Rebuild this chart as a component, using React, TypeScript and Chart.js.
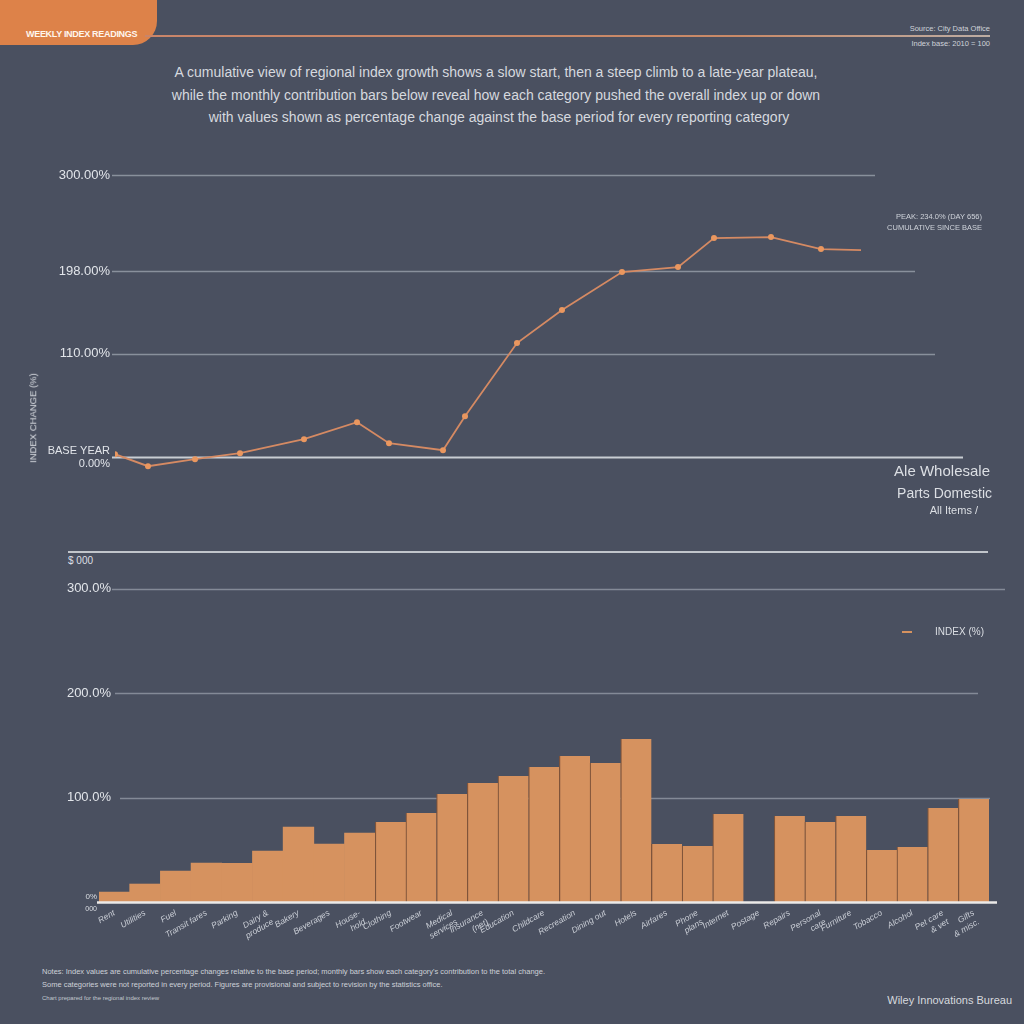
import React, { useEffect, useRef } from "react";
import { Chart, registerables } from "chart.js";

Chart.register(...registerables);

// ---------- DATA ----------
// Line chart (cumulative index change, %), x = reporting day
const lineDays = [0, 33, 80, 125, 189, 242, 274, 328, 350, 402, 447, 507, 563, 599, 656, 706, 746];
const lineValues = [3.2, -9.6, -2.1, 4.3, 19.1, 37.2, 14.9, 7.4, 43.6, 121.3, 156.4, 196.8, 202.1, 233.0, 234.0, 221.3, 220.2];
const lineTickValues = [0, 110, 198, 300];
const lineTickLabels: (string | string[])[] = [["BASE YEAR", "0.00%"], "110.00%", "198.00%", "300.00%"];

// Bar chart (category contribution, %)
const barCategories: (string | string[])[] = [
  "Rent", "Utilities", "Fuel", "Transit fares", "Parking",
  ["Dairy &", "produce"], "Bakery", "Beverages", ["House-", "hold"], "Clothing",
  "Footwear", ["Medical", "services"], ["Insurance", "(net)"], "Education", "Childcare",
  "Recreation", "Dining out", "Hotels", "Airfares", ["Phone", "plans"],
  "Internet", "Postage", "Repairs", ["Personal", "care"], "Furniture",
  "Tobacco", "Alcohol", ["Pet care", "& vet"], ["Gifts", "& misc."],
];
const barValues = [
  9.6, 17.2, 29.7, 37.3, 37.0,
  48.8, 71.8, 55.5, 66.0, 76.6,
  85.2, 103.3, 113.9, 120.6, 129.2,
  139.7, 133.0, 156.0, 55.5, 53.6,
  84.2, 0, 82.3, 76.6, 82.3,
  49.8, 52.6, 90.0, 98.6,
];
const barTickValues = [100, 200, 300];
const barTickLabels = ["100.0%", "200.0%", "300.0%"];

// ---------- STYLE ----------
const BG = "#4a5060";
const TEXT = "#dcdfe4";
const FONT = "'Liberation Sans', Arial, sans-serif";

type HLine = { value: number; x0: number; x1: number; color: string; width: number };
type YLabel = { value: number; text: string; x: number };

function makeHLinePlugin(under: HLine[], over: HLine[], labels: YLabel[] = []) {
  const draw = (chart: any, lines: HLine[]) => {
    const ctx = chart.ctx;
    const ys = chart.scales.y;
    ctx.save();
    for (const l of lines) {
      const py = Math.round(ys.getPixelForValue(l.value)) + 0.5;
      ctx.strokeStyle = l.color;
      ctx.lineWidth = l.width;
      ctx.beginPath();
      ctx.moveTo(l.x0, py);
      ctx.lineTo(l.x1, py);
      ctx.stroke();
    }
    ctx.restore();
  };
  return {
    id: "hlines",
    beforeDatasetsDraw(chart: any) { draw(chart, under); },
    afterDatasetsDraw(chart: any) {
      draw(chart, over);
      const ctx = chart.ctx;
      const ys = chart.scales.y;
      ctx.save();
      ctx.fillStyle = "#e2e5ea";
      ctx.font = `13px ${FONT}`;
      ctx.textAlign = "right";
      ctx.textBaseline = "middle";
      for (const lb of labels) {
        ctx.fillText(lb.text, lb.x, ys.getPixelForValue(lb.value));
      }
      ctx.restore();
    },
  };
}

function LineChart() {
  const ref = useRef<HTMLCanvasElement>(null);
  useEffect(() => {
    if (!ref.current) return;
    const grid = "rgba(190,196,206,0.55)";
    const plugin = makeHLinePlugin(
      [
        { value: 300, x0: 112, x1: 875, color: grid, width: 1.5 },
        { value: 198, x0: 112, x1: 915, color: grid, width: 1.5 },
        { value: 110, x0: 112, x1: 935, color: grid, width: 1.5 },
        { value: 0, x0: 112, x1: 963, color: "rgba(215,218,224,0.9)", width: 2 },
      ],
      []
    );
    const chart = new Chart(ref.current, {
      type: "line",
      data: {
        datasets: [
          {
            data: lineDays.map((d, i) => ({ x: d, y: lineValues[i] })),
            borderColor: "#d58a63",
            borderWidth: 1.8,
            pointRadius: (c: any) => (c.dataIndex === lineDays.length - 1 ? 0 : 3),
            pointBackgroundColor: "#ea975f",
            pointBorderWidth: 0,
            tension: 0,
          },
        ],
      },
      options: {
        responsive: false,
        animation: false,
        layout: { padding: { left: 0, right: 61, top: 25, bottom: 24 } },
        plugins: { legend: { display: false }, tooltip: { enabled: false } },
        scales: {
          x: { type: "linear", min: 0, max: 848, display: false },
          y: {
            type: "linear",
            min: -20,
            max: 300,
            grid: { display: false, drawTicks: false },
            border: { display: false },
            afterBuildTicks: (axis: any) => {
              axis.ticks = lineTickValues.map((v) => ({ value: v }));
            },
            afterFit: (scale: any) => {
              scale.width = 115;
            },
            ticks: {
              padding: 5,
              color: "#e2e5ea",
              font: (c: any) => ({ family: FONT, size: c.index === 0 ? 11 : 13 }),
              callback: (_v: any, i: number) => lineTickLabels[i],
            },
          },
        },
      },
      plugins: [plugin],
    } as any);
    return () => chart.destroy();
  }, []);
  return (
    <canvas
      ref={ref}
      width={1024}
      height={350}
      style={{ position: "absolute", left: 0, top: 150, width: 1024, height: 350 }}
    />
  );
}

function BarChart() {
  const ref = useRef<HTMLCanvasElement>(null);
  useEffect(() => {
    if (!ref.current) return;
    const grid = "rgba(190,196,206,0.5)";
    const plugin = makeHLinePlugin(
      [
        { value: 300, x0: 112, x1: 1005, color: grid, width: 1.5 },
        { value: 200, x0: 115, x1: 978, color: grid, width: 1.5 },
        { value: 100, x0: 120, x1: 990, color: grid, width: 1.5 },
      ],
      [{ value: 0, x0: 97, x1: 997, color: "#eceae8", width: 2.5 }],
      barTickValues.map((v, i) => ({ value: v, text: barTickLabels[i], x: 111 }))
    );
    const chart = new Chart(ref.current, {
      type: "bar",
      data: {
        labels: barCategories,
        datasets: [
          {
            data: barValues,
            backgroundColor: "#d6925f",
            borderColor: "#7f543a",
            borderWidth: (c: any) =>
              c.dataIndex >= 9 ? { left: 1.2, right: 0, top: 0, bottom: 0 } : 0,
            borderSkipped: false,
            categoryPercentage: 1,
            barPercentage: 1,
          },
        ],
      },
      options: {
        responsive: false,
        animation: false,
        layout: { padding: { left: 0, right: 35, top: 22, bottom: 0 } },
        plugins: { legend: { display: false }, tooltip: { enabled: false } },
        scales: {
          x: {
            grid: { display: false, drawTicks: false },
            border: { display: false },
            afterFit: (scale: any) => {
              scale.height = 60;
            },
            ticks: {
              autoSkip: false,
              minRotation: 30,
              maxRotation: 30,
              padding: 6,
              color: "#c9cdd5",
              font: { family: FONT, size: 8.5, style: "italic" },
            },
          },
          y: {
            type: "linear",
            min: 0,
            max: 335,
            grid: { display: false, drawTicks: false },
            border: { display: false },
            afterFit: (scale: any) => {
              scale.width = 99;
            },
            ticks: { display: false },
          },
        },
      },
      plugins: [plugin],
    } as any);
    return () => chart.destroy();
  }, []);
  return (
    <canvas
      ref={ref}
      width={1024}
      height={432}
      style={{ position: "absolute", left: 0, top: 530, width: 1024, height: 432 }}
    />
  );
}

type TProps = {
  x: number;
  y: number;
  size: number;
  align?: "left" | "right" | "center";
  color?: string;
  weight?: number;
  children: React.ReactNode;
  extra?: React.CSSProperties;
};

function T({ x, y, size, align = "left", color = TEXT, weight = 400, children, extra }: TProps) {
  const style: React.CSSProperties = {
    position: "absolute",
    top: y,
    fontSize: size,
    lineHeight: 1,
    color,
    fontWeight: weight,
    whiteSpace: "nowrap",
    fontFamily: FONT,
  };
  if (align === "left") {
    style.left = x;
    style.transform = "translateY(-50%)";
  } else if (align === "right") {
    style.right = 1024 - x;
    style.transform = "translateY(-50%)";
  } else {
    style.left = x;
    style.transform = "translate(-50%,-50%)";
  }
  return <div style={{ ...style, ...extra }}>{children}</div>;
}

export default function App() {
  return (
    <div
      style={{
        position: "fixed",
        left: 0,
        top: 0,
        width: 1024,
        height: 1024,
        background: BG,
        overflow: "hidden",
        fontFamily: FONT,
      }}
    >
      {/* header tab */}
      <div
        style={{
          position: "absolute",
          left: 0,
          top: 0,
          width: 157,
          height: 45,
          background: "#dd8249",
          borderBottomRightRadius: 24,
        }}
      />
      <T x={26} y={34} size={9} color="#fff6ee" weight={700} extra={{ letterSpacing: -0.3 }}>
        WEEKLY INDEX READINGS
      </T>
      <div
        style={{
          position: "absolute",
          left: 145,
          top: 35,
          width: 845,
          height: 2,
          background: "linear-gradient(90deg, #c9856a, #c98a68 70%, #bcaca3)",
        }}
      />
      <T x={990} y={29} size={7.5} align="right" color="#cfd3da">Source: City Data Office</T>
      <T x={990} y={44} size={7.5} align="right" color="#cfd3da">Index base: 2010 = 100</T>

      {/* subtitle */}
      <T x={496} y={72} size={14} align="center" color="#d6d9df">
        A cumulative view of regional index growth shows a slow start, then a steep climb to a late-year plateau,
      </T>
      <T x={496} y={95} size={14} align="center" color="#d6d9df">
        while the monthly contribution bars below reveal how each category pushed the overall index up or down
      </T>
      <T x={499} y={117} size={14} align="center" color="#d6d9df">
        with values shown as percentage change against the base period for every reporting category
      </T>

      {/* line chart */}
      <LineChart />
      <T
        x={33}
        y={418}
        size={9.5}
        align="center"
        extra={{ transform: "translate(-50%,-50%) rotate(-90deg)" }}
      >
        INDEX CHANGE (%)
      </T>
      <T x={982} y={217} size={7.5} align="right" color="#cfd3da">PEAK: 234.0% (DAY 656)</T>
      <T x={982} y={228} size={7.5} align="right" color="#cfd3da">CUMULATIVE SINCE BASE</T>
      <T x={990} y={470} size={15} align="right">Ale Wholesale</T>
      <T x={992} y={493} size={14} align="right">Parts Domestic</T>
      <T x={978} y={510} size={11} align="right">All Items /</T>

      {/* bar chart */}
      <div
        style={{
          position: "absolute",
          left: 68,
          top: 551,
          width: 920,
          height: 2,
          background: "rgba(214,217,222,0.85)",
        }}
      />
      <T x={68} y={561} size={10}>$ 000</T>
      <BarChart />
      <T x={97} y={897} size={8} align="right">0%</T>
      <T x={97} y={908} size={7} align="right">000</T>
      <div
        style={{
          position: "absolute",
          left: 902,
          top: 631,
          width: 10,
          height: 2,
          background: "#d6925f",
        }}
      />
      <T x={984} y={632} size={10} align="right">INDEX (%)</T>

      {/* footnotes */}
      <T x={42} y={972} size={7.5} color="#cdd1d8">
        Notes: Index values are cumulative percentage changes relative to the base period; monthly bars show each category's contribution to the total change.
      </T>
      <T x={42} y={985} size={7.5} color="#cdd1d8">
        Some categories were not reported in every period. Figures are provisional and subject to revision by the statistics office.
      </T>
      <T x={42} y={998} size={6} color="#c3c8cf">Chart prepared for the regional index review</T>
      <T x={1012} y={1000} size={11} align="right" color="#d6d9de">Wiley Innovations Bureau</T>
    </div>
  );
}
